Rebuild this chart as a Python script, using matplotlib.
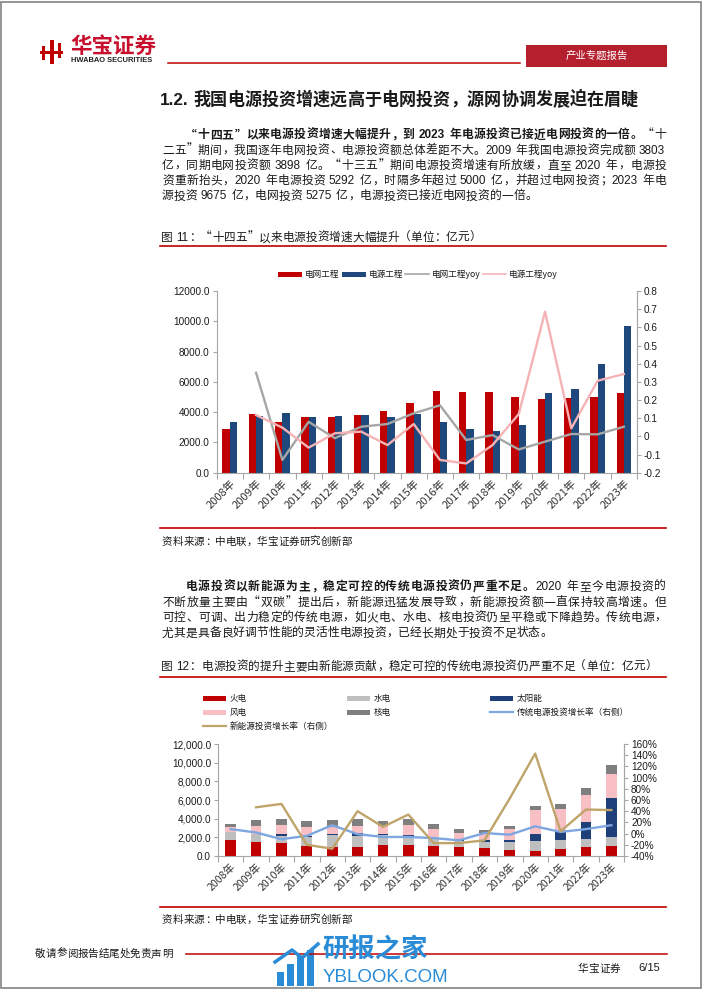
# %%
import re

import numpy as np
import matplotlib
matplotlib.use('Agg')
import matplotlib.pyplot as plt
from matplotlib.patches import Rectangle
from matplotlib.lines import Line2D
from matplotlib.ticker import FuncFormatter, MultipleLocator

# %%
# Chart data (亿元), read from the reference page
years = [f'{y}年' for y in range(2008, 2024)]

# 图11
grid_inv = [2870, 3860, 3370, 3680, 3680, 3830, 4100, 4630, 5420, 5330, 5350, 5000, 4870, 4930, 5000, 5270]
src_inv = [3370, 3770, 3940, 3680, 3770, 3830, 3680, 3900, 3370, 2890, 2750, 3130, 5260, 5510, 7200, 9670]
grid_yoy = [np.nan, 0.350, -0.130, 0.080, -0.010, 0.053, 0.068, 0.127, 0.171,
            -0.020, 0.007, -0.072, -0.029, 0.013, 0.011, 0.053]
src_yoy = [np.nan, 0.117, 0.048, -0.062, 0.017, 0.026, -0.048, 0.068, -0.130,
           -0.149, -0.048, 0.123, 0.686, 0.044, 0.306, 0.343]

# 图12
thermal = [1710, 1540, 1360, 1070, 1000, 1000, 1180, 1180, 1100, 930, 860, 640, 570, 710, 930, 1070]
hydro = [900, 820, 780, 930, 1290, 1140, 1030, 960, 690, 680, 680, 820, 1030, 1000, 860, 1000]
solar = [0, 0, 180, 140, 70, 360, 110, 110, 170, 180, 170, 220, 720, 900, 1890, 4100]
wind = [460, 850, 1000, 930, 710, 680, 860, 1110, 970, 640, 790, 1180, 2610, 2430, 2860, 2570]
nuclear = [360, 650, 680, 720, 750, 750, 570, 570, 460, 460, 320, 320, 390, 530, 750, 1000]
trad_growth = [0.08, 0.02, -0.10, -0.04, 0.15, -0.01, -0.06, -0.06, -0.08,
               -0.12, 0.01, -0.02, 0.13, 0.03, 0.08, 0.15]
new_growth = [np.nan, 0.47, 0.53, -0.20, -0.27, 0.40, 0.12, 0.34, -0.17,
              -0.17, -0.12, 0.63, 1.43, 0.04, 0.43, 0.42]

stack_names = ['火电', '水电', '太阳能', '风电', '核电']

# %%
# Page setup (pixel coordinates, origin top-left)
W, H = 702, 991
CJK = 'Noto Sans CJK SC'
LAT = 'Liberation Sans'
plt.rcParams['font.family'] = [CJK, 'DejaVu Sans']

RED = '#C00000'
NAVY = '#1F497D'
AXC = '#A6A6A6'
TXT = '#1a1a1a'

fig = plt.figure(figsize=(W / 100, H / 100), dpi=100)
fig.patch.set_facecolor('white')
renderer = fig.canvas.get_renderer()


def put(x, y, s, **kw):
    kw.setdefault('va', 'center')
    return fig.text(x / W, 1 - y / H, s, **kw)


def hline(x0, x1, y, color=RED, lw=1.0):
    fig.add_artist(Line2D([x0 / W, x1 / W], [1 - y / H, 1 - y / H], color=color, lw=lw))


def rect(x0, y0, x1, y1, color):
    fig.add_artist(Rectangle((x0 / W, 1 - y1 / H), (x1 - x0) / W, (y1 - y0) / H,
                             transform=fig.transFigure, facecolor=color, edgecolor='none'))


def write_line(parts, x0, x1, y, size, justify=True, color=TXT):
    """Place a line token by token; CJK glyphs take one em, latin runs their width."""
    em = size * 100 / 72
    base = y + 0.36 * em
    cells = []
    for s, wgt in parts:
        for t in re.findall(r'[0-9A-Za-z.%/]+| |.', s):
            if t == ' ':
                cells.append((t, wgt, 0.28 * em))
            elif t.isascii():
                a = put(0, 0, t, fontsize=size, family=LAT, weight=wgt)
                w = a.get_window_extent(renderer).width
                a.remove()
                cells.append((t, wgt, w + 0.08 * em))
            else:
                cells.append((t, wgt, em))
    total = sum(c[2] for c in cells)
    gap = (x1 - x0 - total) / (len(cells) - 1) if justify and len(cells) > 1 else 0
    x = x0
    for t, wgt, w in cells:
        kw = dict(fontsize=size, weight=wgt, color=color, va='baseline')
        if t == ' ':
            pass
        elif t.isascii():
            put(x, base, t, family=LAT, ha='left', **kw)
        elif t in '“‘（':
            put(x + w * 0.95, base, t, ha='right', **kw)
        elif t in '，。、；：”’）':
            put(x + w * 0.05, base, t, ha='left', **kw)
        else:
            put(x + w / 2, base, t, ha='center', **kw)
        x += w + gap


# page border
fig.add_artist(Rectangle((1 / W, 3 / H), (W - 2.5) / W, (H - 4.5) / H, transform=fig.transFigure,
                         fill=False, edgecolor='#8c8c8c', lw=1.3))

# %%
# Header: logo, rule, report-type box
rect(50, 40, 53.5, 64, RED)
rect(42, 46, 45, 60, RED)
rect(57.5, 43, 60.5, 58, RED)
rect(40, 50.5, 63, 53.5, RED)
put(70, 53, '华宝证券', fontsize=15.5, weight='bold', color='#C8102E', ha='left', va='baseline')
put(71, 56.5, 'HWABAO SECURITIES', fontsize=5.4, weight='bold', family=LAT, color='#222222',
    ha='left', va='top')
hline(168, 520, 62.5, lw=1.1)
rect(526, 45, 667, 67, '#B5202E')
put(596.5, 56, '产业专题报告', fontsize=7.5, color='white', ha='center')

# Section heading
write_line([('1.2. ', 'bold')], 160, 638, 98.5, 12.3, justify=False)
write_line([('我国电源投资增速远高于电网投资，源网协调发展迫在眉睫', 'bold')], 193, 638, 98.5, 12.3, justify=True)

# Paragraph 1
BODY = 8.5
X0, X1 = 162, 666
para1 = [
    ([('“十四五”以来电源投资增速大幅提升，到 2023 年电源投资已接近电网投资的一倍。', 'bold'), ('“十', 'normal')], True, True),
    ([('二五”期间，我国逐年电网投资、电源投资额总体差距不大。2009 年我国电源投资完成额 3803', 'normal')], False, True),
    ([('亿，同期电网投资额 3898 亿。“十三五”期间电源投资增速有所放缓，直至 2020 年，电源投', 'normal')], False, True),
    ([('资重新抬头，2020 年电源投资 5292 亿，时隔多年超过 5000 亿，并超过电网投资；2023 年电', 'normal')], False, True),
    ([('源投资 9675 亿，电网投资 5275 亿，电源投资已接近电网投资的一倍。', 'normal')], False, False),
]
for i, (parts, indent, just) in enumerate(para1):
    write_line(parts, X0 + (2 * BODY * 100 / 72 if indent else 0), X1, 134 + 15.3 * i, BODY, just)

# Figure 11 caption
write_line([('图 11：“十四五”以来电源投资增速大幅提升（单位：亿元）', 'normal')], 161, 666, 237, 8.4, False)
hline(160, 666, 246, lw=1.2)

# Paragraph 2
para2 = [
    ([('电源投资以新能源为主，稳定可控的传统电源投资仍严重不足。', 'bold'), ('2020 年至今电源投资的', 'normal')], True, True),
    ([('不断放量主要由“双碳”提出后，新能源迅猛发展导致，新能源投资额一直保持较高增速。但', 'normal')], False, True),
    ([('可控、可调、出力稳定的传统电源，如火电、水电、核电投资仍呈平稳或下降趋势。传统电源，', 'normal')], False, True),
    ([('尤其是具备良好调节性能的灵活性电源投资，已经长期处于投资不足状态。', 'normal')], False, False),
]
for i, (parts, indent, just) in enumerate(para2):
    write_line(parts, X0 + (2 * BODY * 100 / 72 if indent else 0), X1, 586 + 15.4 * i, BODY, just)

write_line([('图 12：电源投资的提升主要由新能源贡献，稳定可控的传统电源投资仍严重不足（单位：亿元）', 'normal')],
           161, 666, 666, 8.4, False)
hline(160, 666, 677, lw=1.2)

# Sources
hline(160, 666, 528, lw=1.2)
write_line([('资料来源：中电联，华宝证券研究创新部', 'normal')], 162, 400, 541, 7.6, False)
hline(160, 666, 907, lw=1.2)
write_line([('资料来源：中电联，华宝证券研究创新部', 'normal')], 162, 400, 919, 7.6, False)

# Footer
write_line([('敬请参阅报告结尾处免责声明', 'normal')], 35, 200, 953, 7.6, False)
hline(186, 667, 954, lw=1.1)
write_line([('华宝证券', 'normal')], 578, 630, 968, 7.6, False)
put(638, 968, '6/15', fontsize=8, family=LAT, ha='left', color=TXT)

# watermark
WM = '#2A8BD6'
for k, hgt in enumerate([14, 22, 30, 36]):
    rect(277 + k * 10, 986 - hgt, 284 + k * 10, 986, WM)
fig.add_artist(Line2D([275 / W, 292 / W, 302 / W, 318 / W], [1 - 962 / H, 1 - 950 / H, 1 - 958 / H, 1 - 944 / H],
                      color=WM, lw=2.5, transform=fig.transFigure))
put(322, 950, '研报之家', fontsize=19, weight='bold', color=WM, ha='left')
put(323, 977, 'YBLOOK.COM', fontsize=13.5, family=LAT, color=WM, ha='left')


# %%
def px_axes(x0, y0, x1, y1):
    return fig.add_axes([x0 / W, 1 - y1 / H, (x1 - x0) / W, (y1 - y0) / H])


def style_axes(ax, twin, xsize):
    for side in ['left', 'right', 'bottom']:
        ax.spines[side].set_color(AXC)
    ax.spines['top'].set_visible(False)
    ax.patch.set_alpha(0)
    twin.spines['top'].set_visible(False)
    twin.spines['right'].set_color(AXC)
    twin.spines['left'].set_visible(False)
    twin.spines['bottom'].set_visible(False)
    n = len(years)
    ax.set_xlim(-0.5, n - 0.5)
    ax.set_xticks(np.arange(-0.5, n, 1))
    ax.set_xticklabels([])
    ax.set_xticks(np.arange(n), minor=True)
    ax.set_xticklabels(years, minor=True, rotation=45, ha='right', va='top', rotation_mode='anchor',
                       fontsize=xsize, color='#333333')
    ax.tick_params(axis='x', which='major', length=4, color=AXC)
    ax.tick_params(axis='x', which='minor', length=0, pad=4)
    ax.tick_params(axis='y', length=3, color=AXC, labelsize=7.2, labelcolor=TXT, pad=2)
    twin.tick_params(axis='y', length=3, color=AXC, labelsize=7.2, labelcolor=TXT, pad=2)
    for lab in ax.get_yticklabels() + twin.get_yticklabels():
        lab.set_family(LAT)


x = np.arange(len(years))

# 图11: grid vs source investment
ax1 = px_axes(216.7, 291, 637, 472.7)
ax1.bar(x - 0.14, grid_inv, 0.28, color=RED, zorder=2)
ax1.bar(x + 0.14, src_inv, 0.28, color=NAVY, zorder=2)
ax1.set_ylim(0, 12000)
ax1.yaxis.set_major_locator(MultipleLocator(2000))
ax1.yaxis.set_major_formatter(FuncFormatter(lambda v, p: f'{v:.1f}'))
ax1r = ax1.twinx()
ax1r.plot(x, grid_yoy, color='#A6A6A6', lw=1.7)
ax1r.plot(x, src_yoy, color='#F5B3B5', lw=1.7)
ax1r.set_ylim(-0.2, 0.8)
ax1r.yaxis.set_major_locator(MultipleLocator(0.1))
ax1r.yaxis.set_major_formatter(FuncFormatter(lambda v, p: '0' if abs(v) < 1e-9 else f'{v:.1f}'))
style_axes(ax1, ax1r, 8.0)

# legend 图11
LY = 274
rect(278, LY - 2.5, 302, LY + 2.5, RED)
put(305, LY, '电网工程', fontsize=6.2, ha='left', color=TXT)
rect(342, LY - 2.5, 366, LY + 2.5, NAVY)
put(369, LY, '电源工程', fontsize=6.2, ha='left', color=TXT)
hline(405, 429, LY, color='#A6A6A6', lw=1.2)
put(432, LY, '电网工程yoy', fontsize=6.2, ha='left', color=TXT)
hline(483, 506, LY, color='#F5B3B5', lw=1.2)
put(509, LY, '电源工程yoy', fontsize=6.2, ha='left', color=TXT)

# 图12: investment by source, stacked
stack_vals = [thermal, hydro, solar, wind, nuclear]
stack_cols = [RED, '#BFBFBF', '#1F3F7A', '#F8BFC4', '#7F7F7F']
ax2 = px_axes(218, 744, 624, 856)
bottom = np.zeros(len(years))
for vals, col in zip(stack_vals, stack_cols):
    ax2.bar(x, vals, 0.42, bottom=bottom, color=col, zorder=2)
    bottom += np.array(vals)
ax2.set_ylim(0, 12000)
ax2.yaxis.set_major_locator(MultipleLocator(2000))
ax2.yaxis.set_major_formatter(FuncFormatter(lambda v, p: f'{v:,.1f}'))
ax2r = ax2.twinx()
ax2r.plot(x, trad_growth, color='#7EA6E0', lw=1.7)
ax2r.plot(x, new_growth, color='#BFA46A', lw=1.7)
ax2r.set_ylim(-0.4, 1.6)
ax2r.yaxis.set_major_locator(MultipleLocator(0.2))
ax2r.yaxis.set_major_formatter(FuncFormatter(lambda v, p: f'{v * 100:.0f}%'))
style_axes(ax2, ax2r, 7.6)

# legend 图12
cols_x = [203, 347, 490]
rows_y = [698, 712, 726]
items = [('火电', 'patch', RED, 0, 0), ('水电', 'patch', '#BFBFBF', 1, 0), ('太阳能', 'patch', '#1F3F7A', 2, 0),
         ('风电', 'patch', '#F8BFC4', 0, 1), ('核电', 'patch', '#7F7F7F', 1, 1),
         ('传统电源投资增长率（右侧）', 'line', '#7EA6E0', 2, 1),
         ('新能源投资增长率（右侧）', 'line', '#BFA46A', 0, 2)]
for name, kind, col, c, r in items:
    xx, yy = cols_x[c], rows_y[r]
    if kind == 'patch':
        rect(xx, yy - 2.5, xx + 23, yy + 2.5, col)
    else:
        hline(xx, xx + 23, yy, color=col, lw=1.6)
    put(xx + 27, yy, name, fontsize=6.2, ha='left', color=TXT)

fig.savefig('out.png', dpi=100, facecolor='white')
